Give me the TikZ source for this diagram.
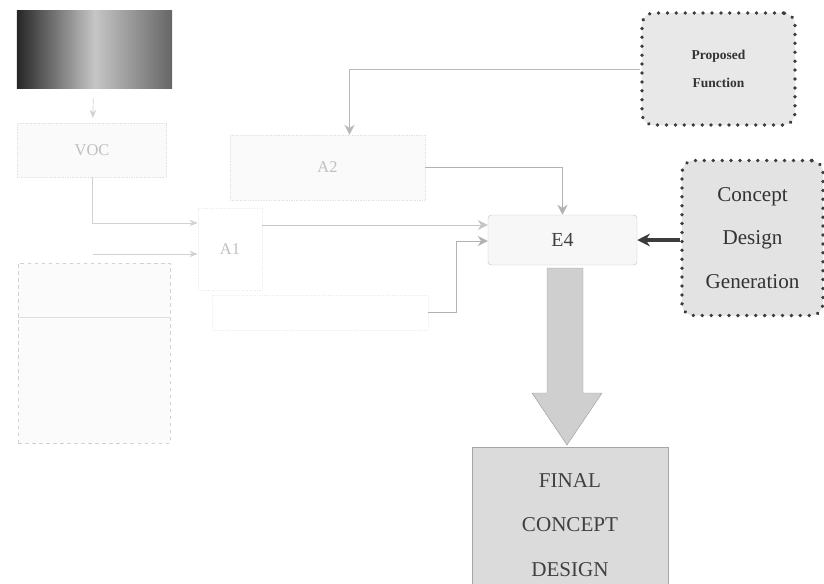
\documentclass[tikz,border=0pt]{standalone}
\usepackage{fontspec}
\setmainfont{Liberation Serif}
\usetikzlibrary{arrows.meta,positioning,calc}
\definecolor{scan}{HTML}{3C3C3C}

\begin{document}
\begin{tikzpicture}[x=0.03cm, y=-0.03cm,
  faint/.style={rectangle, draw=gray!22, densely dotted, fill=gray!4, text=gray!50, inner sep=0pt, font=\fontsize{14}{16}\selectfont},
  dotbox/.style={rectangle, rounded corners=10pt, draw=scan, line width=3.2pt, dash pattern=on 0.01pt off 7.6pt, line cap=round, align=center, text=black!80},
  flow/.style={-{Stealth[length=2.5mm]}, semithick, gray!35},
  feed/.style={-{Stealth[length=3mm, width=3mm]}, thick, gray!60},
  heavy/.style={-{Stealth[length=3.8mm, width=3.8mm]}, line width=2.6pt, scan}
]
  \useasboundingbox (0,0) rectangle (824,583);

  % faded left part
  \node[rectangle, minimum width=4.65cm, minimum height=2.34cm, left color=black!85, right color=black!60, middle color=gray!45, draw=none] (src) at (94.5,49) {};
  \node[faint, minimum width=4.47cm, minimum height=1.62cm] (voc) at (92,150) {VOC};
  \node[faint, minimum width=5.85cm, minimum height=1.95cm] (a2) at (327.5,167.5) {A2};
  \node[faint, draw=gray!12, fill=none, minimum width=1.92cm, minimum height=2.46cm] (a1) at (230,249) {A1};
  \node[faint, draw=gray!12, fill=none, minimum width=6.48cm, minimum height=1.05cm] (a3) at (320,312.5) {};
  \node[faint, draw=gray!35, dashed, fill=gray!3, minimum width=4.56cm, minimum height=5.4cm] (perf) at (94,353) {};
  \draw[gray!25, thick] (perf.west |- 0,317) -- (perf.east |- 0,317);
  \coordinate (fb) at (93,254);

  % main blocks
  \node[rectangle, rounded corners=3pt, draw=gray!45, fill=gray!6, minimum width=4.47cm, minimum height=1.5cm, font=\fontsize{17}{20}\selectfont, text=black!75] (e4) at (562.5,240) {E4};
  \node[dotbox, fill=gray!18, minimum width=4.59cm, minimum height=3.36cm, font=\fontsize{11.5}{24}\selectfont\bfseries] (pf) at (718.5,69) {Proposed\\Function};
  \node[dotbox, fill=gray!22, minimum width=4.23cm, minimum height=4.65cm, font=\fontsize{18}{37}\selectfont] (cdg) at (752.5,238) {Concept\\Design\\Generation};
  \node[rectangle, draw=gray!70, fill=gray!28, minimum width=5.88cm, minimum height=4.65cm, align=center, font=\fontsize{18}{38}\selectfont, text=black!75] (final) at (570,525) {FINAL\\CONCEPT\\DESIGN};

  % connectors
  \draw[flow, shorten <=9pt, shorten >=4pt] (src) -- (voc);
  \draw[flow] (voc.south) |- ([yshift=0.78cm]a1.west);
  \draw[flow] (fb) -- (fb -| a1.west);
  \draw[feed, gray!55] (pf.west) -| ([xshift=0.66cm]a2.north);
  \draw[feed] (a2.east) -| (e4.north);
  \coordinate (e4in) at ([yshift=0.45cm]e4.west);
  \coordinate (e4low) at ([yshift=-0.03cm]e4.west);
  \draw[feed, gray!45] (a1.east |- e4in) -- (e4in);
  \draw[feed] (a3.east) -| ($(e4low)+(-31,0)$) -- (e4low);
  \draw[heavy] (cdg.west |- e4.east) -- (e4.east);

  % block arrow
  \fill[gray!38, draw=gray!75] (547,268) -- (583,268) -- (583,393) -- (602,393) -- (567,445) -- (532,393) -- (547,393) -- cycle;
\end{tikzpicture}
\end{document}
